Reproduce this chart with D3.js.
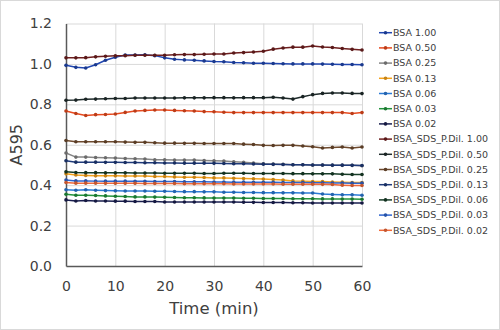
<!DOCTYPE html>
<html>
<head>
<meta charset="utf-8">
<script src="https://cdn.jsdelivr.net/npm/d3@7"></script>
<style>
  body { margin: 0; background: #fff; }
  svg { font-family: "DejaVu Sans", Verdana, sans-serif; }
</style>
</head>
<body>
<div class="canvas"></div>
<script>
// time points (min)
const times = [0, 2, 4, 6, 8, 10, 12, 14, 16, 18, 20, 22, 24, 26, 28, 30,
    32, 34, 36, 38, 40, 42, 44, 46, 48, 50, 52, 54, 56, 58, 60];

const seriesNames = ['BSA 1.00', 'BSA 0.50', 'BSA 0.25', 'BSA 0.13', 'BSA 0.06', 'BSA 0.03', 'BSA 0.02',
    'BSA_SDS_P.Dil. 1.00', 'BSA_SDS_P.Dil. 0.50', 'BSA_SDS_P.Dil. 0.25', 'BSA_SDS_P.Dil. 0.13',
    'BSA_SDS_P.Dil. 0.06', 'BSA_SDS_P.Dil. 0.03', 'BSA_SDS_P.Dil. 0.02'];

const seriesColors = ['#2046b0', '#e84a1e', '#858585', '#f5a21a', '#2b7bd6', '#22943c', '#1a1f50',
    '#6e1f1f', '#1f2b2b', '#6e4a2e', '#1f3a7a', '#173d28', '#2f65cf', '#f26a3a'];

// absorbance readings, one array per series
const bsa100 = [0.993, 0.983, 0.980, 0.996, 1.018, 1.033, 1.044, 1.044, 1.045, 1.041, 1.030, 1.023, 1.020, 1.018, 1.015, 1.012,
    1.011, 1.007, 1.006, 1.003, 1.003, 1.002, 1.001, 1.000, 1.000, 1.000, 0.999, 0.998, 0.997, 0.997, 0.996];
const bsa050 = [0.767, 0.755, 0.745, 0.749, 0.750, 0.752, 0.760, 0.767, 0.770, 0.772, 0.772, 0.770, 0.768, 0.767, 0.764, 0.763,
    0.761, 0.759, 0.759, 0.759, 0.759, 0.759, 0.759, 0.759, 0.759, 0.759, 0.759, 0.759, 0.759, 0.755, 0.759];
const bsa025 = [0.559, 0.539, 0.539, 0.537, 0.536, 0.534, 0.532, 0.531, 0.529, 0.526, 0.526, 0.524, 0.524, 0.524, 0.522, 0.521,
    0.519, 0.516, 0.513, 0.510, 0.506, 0.504, 0.503, 0.501, 0.501, 0.499, 0.499, 0.498, 0.498, 0.498, 0.496];
const bsa013 = [0.456, 0.450, 0.448, 0.446, 0.446, 0.446, 0.445, 0.445, 0.445, 0.443, 0.443, 0.441, 0.439, 0.439, 0.438, 0.436,
    0.436, 0.434, 0.433, 0.432, 0.430, 0.428, 0.425, 0.421, 0.420, 0.418, 0.418, 0.416, 0.415, 0.413, 0.413];
const bsa006 = [0.377, 0.375, 0.377, 0.375, 0.373, 0.372, 0.371, 0.371, 0.371, 0.370, 0.370, 0.369, 0.368, 0.368, 0.367, 0.367,
    0.365, 0.365, 0.364, 0.364, 0.363, 0.363, 0.362, 0.362, 0.361, 0.361, 0.356, 0.354, 0.352, 0.352, 0.350];
const bsa003 = [0.355, 0.350, 0.350, 0.349, 0.347, 0.345, 0.344, 0.342, 0.342, 0.341, 0.340, 0.339, 0.338, 0.338, 0.337, 0.336,
    0.336, 0.336, 0.335, 0.335, 0.334, 0.334, 0.334, 0.333, 0.333, 0.333, 0.332, 0.332, 0.331, 0.331, 0.330];
const bsa002 = [0.327, 0.322, 0.324, 0.322, 0.322, 0.321, 0.321, 0.319, 0.319, 0.319, 0.317, 0.317, 0.317, 0.317, 0.317, 0.317,
    0.317, 0.317, 0.316, 0.315, 0.314, 0.314, 0.314, 0.313, 0.313, 0.312, 0.312, 0.312, 0.312, 0.312, 0.312];
const sds100 = [1.030, 1.030, 1.031, 1.035, 1.038, 1.040, 1.041, 1.043, 1.043, 1.043, 1.043, 1.045, 1.046, 1.046, 1.048, 1.049,
    1.049, 1.054, 1.056, 1.059, 1.063, 1.073, 1.079, 1.083, 1.083, 1.089, 1.084, 1.081, 1.076, 1.072, 1.069];
const sds050 = [0.820, 0.821, 0.825, 0.826, 0.828, 0.829, 0.829, 0.831, 0.831, 0.831, 0.831, 0.831, 0.832, 0.832, 0.832, 0.833,
    0.833, 0.832, 0.833, 0.833, 0.833, 0.835, 0.831, 0.826, 0.838, 0.848, 0.854, 0.856, 0.856, 0.854, 0.853];
const sds025 = [0.621, 0.615, 0.615, 0.615, 0.615, 0.615, 0.613, 0.612, 0.612, 0.610, 0.608, 0.608, 0.607, 0.607, 0.606, 0.606,
    0.606, 0.606, 0.603, 0.601, 0.597, 0.596, 0.597, 0.597, 0.594, 0.590, 0.584, 0.587, 0.589, 0.584, 0.589];
const sds013 = [0.521, 0.514, 0.514, 0.514, 0.513, 0.513, 0.512, 0.512, 0.511, 0.511, 0.510, 0.510, 0.509, 0.509, 0.509, 0.508,
    0.507, 0.506, 0.506, 0.505, 0.504, 0.503, 0.502, 0.501, 0.501, 0.500, 0.500, 0.499, 0.499, 0.498, 0.497];
const sds006 = [0.466, 0.463, 0.462, 0.462, 0.461, 0.461, 0.461, 0.460, 0.460, 0.460, 0.459, 0.459, 0.459, 0.459, 0.458, 0.458,
    0.459, 0.459, 0.459, 0.458, 0.458, 0.458, 0.458, 0.457, 0.457, 0.456, 0.456, 0.456, 0.454, 0.453, 0.453];
const sds003 = [0.425, 0.421, 0.421, 0.420, 0.420, 0.420, 0.420, 0.419, 0.419, 0.418, 0.418, 0.418, 0.417, 0.417, 0.417, 0.416,
    0.416, 0.415, 0.415, 0.414, 0.414, 0.414, 0.413, 0.413, 0.413, 0.412, 0.412, 0.411, 0.411, 0.410, 0.410];
const sds002 = [0.413, 0.410, 0.410, 0.410, 0.409, 0.409, 0.409, 0.409, 0.408, 0.408, 0.408, 0.408, 0.407, 0.407, 0.407, 0.407,
    0.407, 0.406, 0.406, 0.406, 0.406, 0.406, 0.405, 0.405, 0.405, 0.405, 0.404, 0.403, 0.400, 0.398, 0.398];

const xTicks = [0, 10, 20, 30, 40, 50, 60];
const yTicks = [0, 0.2, 0.4, 0.6, 0.8, 1.0, 1.2];

const allValues = [bsa100, bsa050, bsa025, bsa013, bsa006, bsa003, bsa002,
    sds100, sds050, sds025, sds013, sds006, sds003, sds002];

const series = seriesNames.map((name, i) => ({
    name,
    color: seriesColors[i],
    points: times.map((t, j) => ({ t, v: allValues[i][j] }))
}));

//chart dimensions
const dims = { width: 500, height: 330 };
const plot = { left: 66, right: 362, top: 23.5, bottom: 266 };

const svg = d3.select('.canvas')
    .append('svg')
    .attr('width', dims.width)
    .attr('height', dims.height);

//outer frame
svg.append('rect')
    .attr('x', 0.5).attr('y', 0.5)
    .attr('width', dims.width - 1).attr('height', dims.height - 1)
    .attr('fill', '#fff')
    .attr('stroke', '#d9d9d9');

const x = d3.scaleLinear().domain([0, 60]).range([plot.left, plot.right]);
const y = d3.scaleLinear().domain([0, 1.2]).range([plot.bottom, plot.top]);

//gridlines
const gridX = svg.append('g')
    .attr('transform', `translate(0, ${plot.bottom})`)
    .call(d3.axisBottom(x).tickValues(xTicks.slice(1)).tickSize(-(plot.bottom - plot.top)).tickFormat(''));
const gridY = svg.append('g')
    .attr('transform', `translate(${plot.left}, 0)`)
    .call(d3.axisLeft(y).tickValues(yTicks.slice(1)).tickSize(-(plot.right - plot.left)).tickFormat(''));
[gridX, gridY].forEach(g => {
    g.select('.domain').remove();
    g.selectAll('line').attr('stroke', '#d9d9d9').attr('stroke-width', 1);
});

//axes
const xAxis = svg.append('g')
    .attr('transform', `translate(0, ${plot.bottom})`)
    .call(d3.axisBottom(x).tickValues(xTicks).tickSize(0).tickPadding(15));
const yAxis = svg.append('g')
    .attr('transform', `translate(${plot.left}, 0)`)
    .call(d3.axisLeft(y).tickValues(yTicks).tickSize(0).tickPadding(14).tickFormat(d3.format('.1f')));
[xAxis, yAxis].forEach(g => {
    g.select('.domain').attr('stroke', '#595959').attr('stroke-width', 1.5);
    g.selectAll('text').attr('fill', '#404040').style('font-size', '14px')
        .style('font-family', '"DejaVu Sans", Verdana, sans-serif');
});

//axis titles
svg.append('text')
    .attr('x', (plot.left + plot.right) / 2)
    .attr('y', 314)
    .attr('text-anchor', 'middle')
    .attr('fill', '#404040')
    .style('font-size', '16.5px')
    .text('Time (min)');

svg.append('text')
    .attr('transform', `translate(22, ${(plot.top + plot.bottom) / 2}) rotate(-90)`)
    .attr('text-anchor', 'middle')
    .attr('fill', '#404040')
    .style('font-size', '16px')
    .text('A595');

//lines and markers
const line = d3.line()
    .x(d => x(d.t))
    .y(d => y(d.v));

const groups = svg.selectAll('g.series')
    .data(series)
    .enter()
    .append('g')
        .attr('class', 'series');

groups.append('path')
    .attr('d', d => line(d.points))
    .attr('fill', 'none')
    .attr('stroke', d => d.color)
    .attr('stroke-width', 1.5);

groups.selectAll('circle')
    .data(d => d.points.map(p => ({ ...p, color: d.color })))
    .enter()
    .append('circle')
        .attr('cx', d => x(d.t))
        .attr('cy', d => y(d.v))
        .attr('r', 1.8)
        .attr('fill', d => d3.color(d.color).darker(0.6));

//legend
const legend = svg.append('g');
const entries = legend.selectAll('g')
    .data(series)
    .enter()
    .append('g')
        .attr('transform', (d, i) => `translate(379, ${32.7 + i * 15.2})`);

entries.append('line')
    .attr('x1', 0).attr('x2', 13)
    .attr('stroke', d => d.color)
    .attr('stroke-width', 1.5);

entries.append('circle')
    .attr('cx', 6.5)
    .attr('r', 1.8)
    .attr('fill', d => d3.color(d.color).darker(0.6));

entries.append('text')
    .attr('x', 14)
    .attr('dy', '0.35em')
    .attr('fill', '#404040')
    .style('font-size', '9.5px')
    .text(d => d.name);
</script>
</body>
</html>
